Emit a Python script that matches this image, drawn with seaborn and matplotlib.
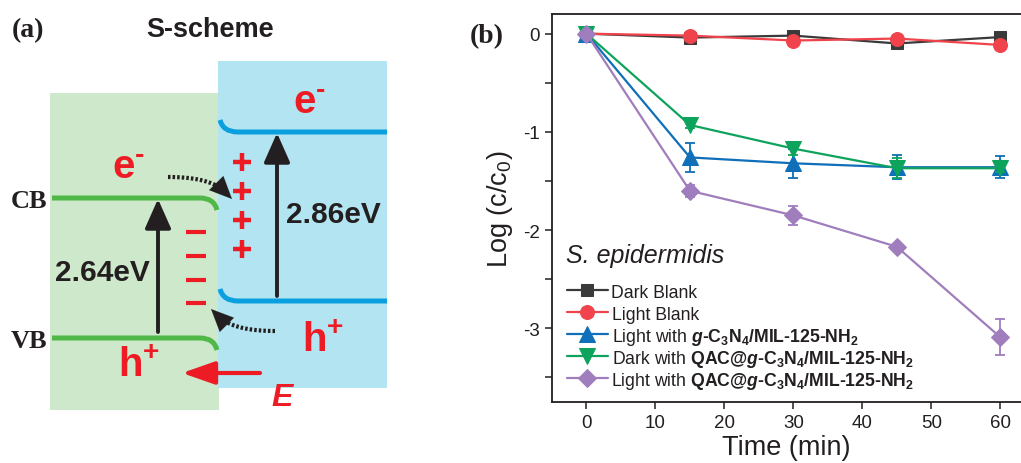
import numpy as np
import pandas as pd
import matplotlib
matplotlib.use('Agg')
import matplotlib.pyplot as plt
from matplotlib.path import Path
from matplotlib.patches import PathPatch, Rectangle, FancyArrowPatch
import seaborn as sns

# Data for panel (b)
time_min = [0, 15, 30, 45, 60]
dark_blank = [0, -0.04, -0.02, -0.10, -0.035]
dark_blank_err = [0.02, 0.04, 0.03, 0.02, 0.03]
light_blank = [0, -0.02, -0.07, -0.05, -0.115]
light_blank_err = [0.02, 0.04, 0.03, 0.02, 0.02]
light_gcn = [0, -1.26, -1.32, -1.36, -1.36]
light_gcn_err = [0.02, 0.145, 0.15, 0.12, 0.11]
dark_qac = [0, -0.93, -1.17, -1.37, -1.37]
dark_qac_err = [0.02, 0.03, 0.065, 0.10, 0.04]
light_qac = [0, -1.60, -1.85, -2.17, -3.09]
light_qac_err = [0.02, 0.06, 0.10, 0.03, 0.18]

series_labels = [
    'Dark Blank',
    'Light Blank',
    'Light with $\\mathbfit{g}\\mathbf{\u2010C_3N_4/MIL\u2010125\u2010NH_2}$',
    'Dark with $\\mathbf{QAC@}\\mathbfit{g}\\mathbf{\u2010C_3N_4/MIL\u2010125\u2010NH_2}$',
    'Light with $\\mathbf{QAC@}\\mathbfit{g}\\mathbf{\u2010C_3N_4/MIL\u2010125\u2010NH_2}$',
]
series_values = [dark_blank, light_blank, light_gcn, dark_qac, light_qac]
series_errors = [dark_blank_err, light_blank_err, light_gcn_err, dark_qac_err, light_qac_err]
series_colors = ['#3a3a3a', '#f0434c', '#0f6fb8', '#0ea35d', '#a07dbd']
series_markers = ['s', 'o', '^', 'v', 'D']
series_msize = [9, 10, 11, 11, 9.5]

sns.set_style('ticks')
plt.rcParams['font.family'] = ['Liberation Sans', 'DejaVu Sans']
plt.rcParams['mathtext.fontset'] = 'custom'
plt.rcParams['mathtext.rm'] = 'Liberation Sans'
plt.rcParams['mathtext.it'] = 'Liberation Sans:italic'
plt.rcParams['mathtext.bf'] = 'Liberation Sans:bold'
plt.rcParams['mathtext.bfit'] = 'Liberation Sans:bold:italic'
plt.rcParams['axes.unicode_minus'] = False

fig = plt.figure(figsize=(10.21, 4.64), dpi=100)

# ---------------- panel (a): S-scheme diagram (pixel coordinates) ----------------
axa = fig.add_axes([0, 0, 520 / 1021, 1])
axa.set_xlim(0, 520)
axa.set_ylim(464, 0)
axa.axis('off')

red = '#ed1c24'
dark = '#231f20'
green_line = '#50b848'
blue_line = '#0aa0e0'

axa.add_patch(Rectangle((50, 94), 169, 317, facecolor='#cde8ca', edgecolor='none'))
axa.add_patch(Rectangle((218, 62), 169, 327, facecolor='#b3e4f1', edgecolor='none'))

def band(pts, color):
    codes = [Path.MOVETO, Path.LINETO, Path.CURVE3, Path.CURVE3]
    axa.add_patch(PathPatch(Path(pts, codes), fill=False, edgecolor=color, lw=3.6, capstyle='butt'))

band([(52, 199), (200, 199), (214, 199), (217, 211)], green_line)
band([(52, 339), (200, 339), (214, 339), (217, 351)], green_line)
band([(387, 133), (238, 133), (223, 133), (220, 121)], blue_line)
band([(387, 302), (238, 302), (223, 302), (220, 290)], blue_line)

def arrow(p0, p1, color, lw=2.8, hl=0.9, hw=0.4, ms=20):
    axa.add_patch(FancyArrowPatch(p0, p1, arrowstyle='-|>,head_length=%s,head_width=%s' % (hl, hw),
                                  mutation_scale=ms, lw=lw, color=color, shrinkA=0, shrinkB=0))

arrow((158, 333), (158, 200), dark)
arrow((277, 297), (277, 134), dark)
arrow((260, 374), (182, 374), red, lw=3.0, hl=1.0, hw=0.35)

def dotted_curve(p0, c, p1, tip):
    t = np.linspace(0, 1, 40)[:, None]
    pts = (1 - t) ** 2 * np.array(p0) + 2 * (1 - t) * t * np.array(c) + t ** 2 * np.array(p1)
    axa.plot(pts[:, 0], pts[:, 1], color=dark, lw=3, ls=(0, (0.6, 0.5)), solid_capstyle='butt')
    arrow(tuple(pts[-3]), tip, dark, lw=0.1, hl=1.0, hw=0.45, ms=16)

dotted_curve((168, 178), (212, 178), (226, 194), (232, 200))
dotted_curve((275, 332), (232, 332), (217, 316), (211, 310))

plus_y = [163, 192, 221, 250]
minus_y = [233, 257, 281, 304]
axa.plot([242] * len(plus_y), plus_y, ls='none', marker='+', ms=13, mew=3.2, color=red)
axa.plot([196] * len(minus_y), minus_y, ls='none', marker='_', ms=14.5, mew=3.0, color=red)

for x, y in [(129, 168), (310, 103)]:
    axa.text(x, y, '$\\mathbf{e^{\u2010}}$', color=red, fontsize=29, ha='center', va='center')
for x, y in [(139, 366), (323, 341)]:
    axa.text(x, y, r'$\mathbf{h^{+}}$', color=red, fontsize=29, ha='center', va='center')
axa.text(282, 398, 'E', color=red, fontsize=23, fontweight='bold', fontstyle='italic',
         ha='center', va='center')
axa.text(102, 273, '2.64eV', color=dark, fontsize=21.5, fontweight='bold', ha='center', va='center')
axa.text(333, 215, '2.86eV', color=dark, fontsize=21.5, fontweight='bold', ha='center', va='center')
axa.text(210, 30, 'S-scheme', color=dark, fontsize=19.5, fontweight='bold', ha='center', va='center')
axa.text(28, 31, '(a)', fontsize=20, fontweight='bold', family='Liberation Serif', ha='center', va='center', color=dark)
axa.text(29, 202, 'CB', fontsize=19, fontweight='bold', family='Liberation Serif', ha='center', va='center', color=dark)
axa.text(29, 342, 'VB', fontsize=19, fontweight='bold', family='Liberation Serif', ha='center', va='center', color=dark)
fig.text(487 / 1021, 1 - 37 / 464, '(b)', fontsize=20, fontweight='bold', family='Liberation Serif',
         ha='center', va='center', color=dark)

# ---------------- panel (b): inactivation kinetics ----------------
ax = fig.add_axes([552 / 1021, 61 / 464, 1 - 552 / 1021, 388 / 464])
for vals, errs, lab, col, mk, ms in zip(series_values, series_errors, series_labels,
                                        series_colors, series_markers, series_msize):
    sns.lineplot(x=time_min, y=vals, color=col, marker=mk, markersize=ms, markeredgecolor=col,
                 lw=1.6, label=lab, ax=ax, errorbar=None)
    ax.errorbar(time_min, vals, yerr=errs, fmt='none', ecolor=col, elinewidth=1.3,
                capsize=3.5, capthick=1.3)

ax.set_xlim(-5, 63)
ax.set_ylim(-3.75, 0.2)
ax.set_xticks([0, 10, 20, 30, 40, 50, 60])
yt = np.arange(-3.5, 0.01, 0.5)
ax.set_yticks(yt)
ax.set_yticklabels(['%d' % v if v == int(v) else '' for v in yt])
ax.tick_params(labelsize=13.5, length=5, width=1.1, color=dark, labelcolor=dark)
ax.set_xlabel('Time (min)', fontsize=19.5, color=dark, labelpad=2)
ax.set_ylabel(r'Log (c/c$_\mathregular{0}$)', fontsize=19.5, color=dark, labelpad=6)
for s in ['left', 'bottom', 'top']:
    ax.spines[s].set_linewidth(1.3)
    ax.spines[s].set_color(dark)
ax.spines['right'].set_visible(False)

# legend keys from the plotted lines; labels written next to them so that plain
# and mathtext rows keep an even pitch
leg_fs = 12.7
lines = [l for l in ax.get_lines() if l.get_label() in series_labels]
leg = ax.legend(lines, [''] * len(lines), loc='upper left', bbox_to_anchor=(0.032, 0.307),
                frameon=False, fontsize=leg_fs, handlelength=2.3, handletextpad=0.0,
                labelspacing=0.17, handleheight=1.2, borderpad=0, borderaxespad=0)
fig.canvas.draw()
renderer = fig.canvas.get_renderer()
to_axes = ax.transAxes.inverted()
fs_px = leg_fs * fig.dpi / 72
for h, lab in zip(leg.legend_handles, series_labels):
    bb = h.get_window_extent(renderer)
    xa, ya = to_axes.transform((bb.x1 - 3, (bb.y0 + bb.y1) / 2 - 0.36 * fs_px))
    ax.text(xa, ya, lab, transform=ax.transAxes, fontsize=leg_fs, ha='left', va='baseline', color=dark)

ax.text(0.03, 0.378, 'S. epidermidis', transform=ax.transAxes, fontsize=18, fontstyle='italic',
        ha='left', va='center', color=dark)

fig.savefig('out.png', dpi=100)
